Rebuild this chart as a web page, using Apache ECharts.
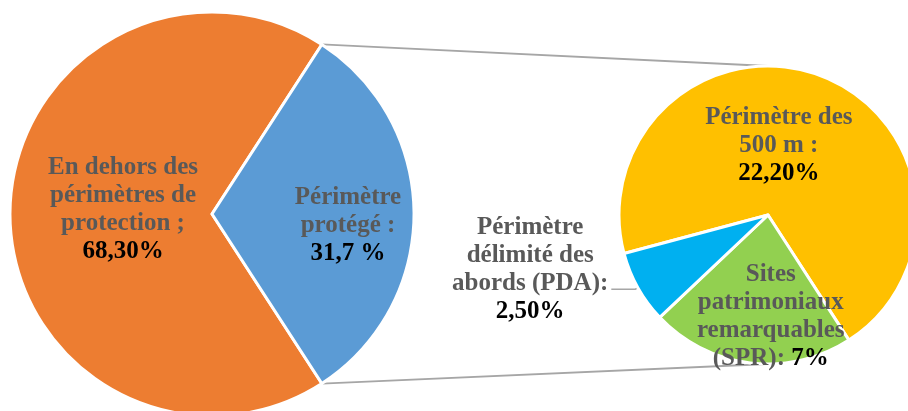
<!DOCTYPE html>
<html><head><meta charset="utf-8">
<script src="https://cdn.jsdelivr.net/npm/echarts@6/dist/echarts.min.js"></script>
<style>html,body{margin:0;padding:0;background:#fff}#c{width:908px;height:411px}</style>
</head><body><div id="c"></div>
<script>
// ---- data ----
const mainNames = ['En dehors des\npérimètres de\nprotection ;', 'Périmètre\nprotégé :'];
const mainValues = [68.3, 31.7];
const mainValueLabels = ['68,30%', '31,7 %'];
const subNames = ['Périmètre des\n500 m :', 'Sites\npatrimoniaux\nremarquables\n(SPR):', 'Périmètre\ndélimité des\nabords (PDA):'];
const subValues = [22.2, 7, 2.5];
const subValueLabels = ['22,20%', '7%', '2,50%'];

// ---- style ----
const FONT = 'Liberation Serif';
const mainColors = ['#ED7D31', '#5B9BD5'];
const subColors = ['#FFC000', '#92D050', '#00B0F0'];
const L = {cx: 212, cy: 214, r: 202};
const R = {cx: 768, cy: 215, r: 149};
const rich = {
  n: {color: '#595959', fontFamily: FONT, fontWeight: 'bold', fontSize: 25, lineHeight: 28, align: 'center'},
  v: {color: '#000000', fontFamily: FONT, fontWeight: 'bold', fontSize: 25, lineHeight: 28, align: 'center'}
};
function fmt(name, val, inline) {
  const lines = name.split('\n').map(l => '{n|' + l + '}');
  if (inline) lines[lines.length - 1] += '{n| }{v|' + val + '}';
  else lines.push('{v|' + val + '}');
  return lines.join('\n');
}

const mainTotal = mainValues.reduce((a, b) => a + b, 0);
const half = mainValues[1] / mainTotal * Math.PI; // half sweep of the "protégé" slice
const startMain = -mainValues[1] / mainTotal * 180;

const topA = [L.cx + L.r * Math.cos(half), L.cy - L.r * Math.sin(half)];
const botA = [L.cx + L.r * Math.cos(half), L.cy + L.r * Math.sin(half)];
const topB = [R.cx, R.cy - R.r];
const botB = [R.cx, R.cy + R.r];

const mainShift = [{dx: 15, dy: -4}, {dx: 32, dy: 12}];
const subShift = [{dx: -17, dy: 3}, {dx: 12, dy: 25}, {}];

const chart = echarts.init(document.getElementById('c'), null, {renderer: 'canvas'});
chart.setOption({
  animation: false,
  backgroundColor: '#ffffff',
  graphic: [
    {type: 'line', z: 0, shape: {x1: topA[0], y1: topA[1], x2: topB[0], y2: topB[1]}, style: {stroke: '#A6A6A6', lineWidth: 1.8}},
    {type: 'line', z: 0, shape: {x1: botA[0], y1: botA[1], x2: botB[0], y2: botB[1]}, style: {stroke: '#A6A6A6', lineWidth: 1.8}}
  ],
  series: [
    {
      type: 'pie', center: [L.cx, L.cy], radius: [0, L.r], startAngle: startMain, clockwise: true,
      avoidLabelOverlap: false, silent: true, emphasis: {disabled: true},
      itemStyle: {borderColor: '#ffffff', borderWidth: 3},
      label: {show: true, position: 'inside', rich: rich,
        formatter: p => fmt(mainNames[p.dataIndex], mainValueLabels[p.dataIndex], false)},
      labelLine: {show: false},
      labelLayout: p => mainShift[p.dataIndex],
      data: mainValues.map((v, i) => ({value: v, name: mainNames[i], itemStyle: {color: mainColors[i]}}))
    },
    {
      type: 'pie', center: [R.cx, R.cy], radius: [0, R.r], startAngle: 195, clockwise: true,
      avoidLabelOverlap: false, silent: true, emphasis: {disabled: true},
      itemStyle: {borderColor: '#ffffff', borderWidth: 3},
      label: {show: true, position: 'inside', rich: rich,
        formatter: p => fmt(subNames[p.dataIndex], subValueLabels[p.dataIndex], p.dataIndex === 1)},
      labelLine: {show: false},
      labelLayout: p => subShift[p.dataIndex],
      data: subValues.map((v, i) => {
        const d = {value: v, name: subNames[i], itemStyle: {color: subColors[i]}};
        if (i === 2) {
          d.label = {position: 'outside', padding: [0, 0, 40, 0], distanceToLabelLine: 3};
          d.labelLine = {show: true, length: 3, length2: 24, lineStyle: {color: '#A6A6A6', width: 1.5}};
        }
        return d;
      })
    }
  ]
});
</script>
</body></html>
